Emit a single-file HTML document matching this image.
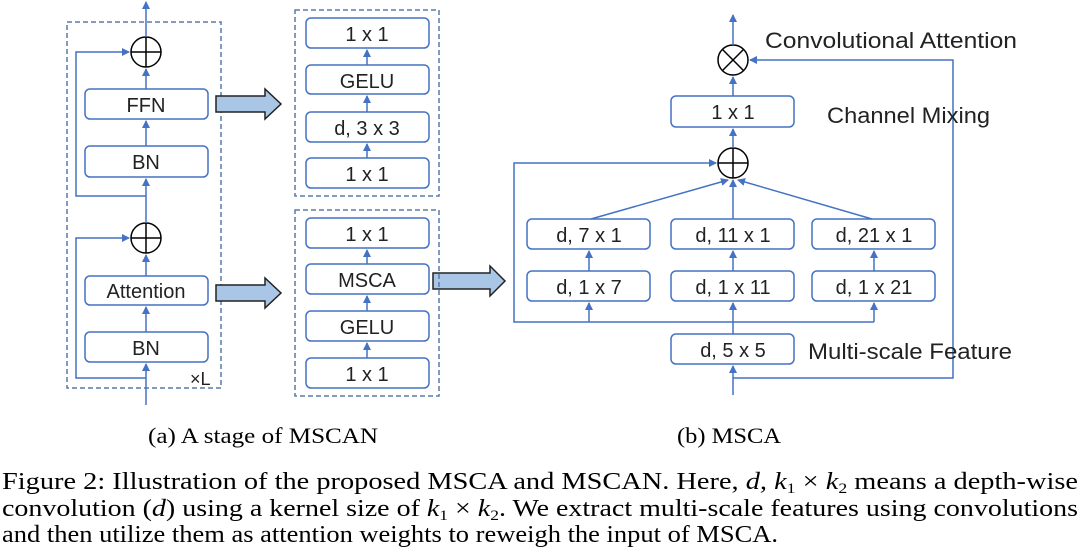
<!DOCTYPE html>
<html><head><meta charset="utf-8"><style>
html,body{margin:0;padding:0;background:#fff;}
svg{display:block;}
.b{fill:#fff;stroke:#4472c4;stroke-width:1.5;}
.l{stroke:#4472c4;stroke-width:1.5;fill:none;}
.d{fill:none;stroke:#5a7ca8;stroke-width:1.5;stroke-dasharray:5,3;}
.t{font-family:"Liberation Sans",sans-serif;font-size:20px;fill:#222;text-anchor:middle;}
.lab{font-family:"Liberation Sans",sans-serif;font-size:22px;fill:#222;}
.s{font-family:"Liberation Serif",serif;font-size:22px;fill:#000;}
.c{stroke:#000;stroke-width:1.5;fill:#fff;}
.ba{fill:#a9c6e6;stroke:#222;stroke-width:1.5;}
</style></head><body>
<svg width="1080" height="554" viewBox="0 0 1080 554" xmlns="http://www.w3.org/2000/svg">
<defs><marker id="a" markerWidth="8" markerHeight="8" refX="7" refY="4" orient="auto" markerUnits="userSpaceOnUse"><path d="M0,0 L8,4 L0,8 Z" fill="#4472c4"/></marker></defs>

<!-- Left stage -->
<rect class="d" x="67" y="22" width="154" height="366"/>
<line class="l" x1="146" y1="405" x2="146" y2="364" marker-end="url(#a)"/>
<polyline class="l" points="146,378 76,378 76,238 129,238" marker-end="url(#a)"/>
<rect class="b" x="85" y="332" width="123" height="30" rx="5"/><text class="t" x="146" y="355">BN</text>
<line class="l" x1="146" y1="332" x2="146" y2="307" marker-end="url(#a)"/>
<rect class="b" x="85" y="276" width="123" height="29" rx="5"/><text class="t" x="146" y="298">Attention</text>
<line class="l" x1="146" y1="276" x2="146" y2="255" marker-end="url(#a)"/>
<circle class="c" cx="146" cy="238" r="15"/><line x1="131" y1="238" x2="161" y2="238" stroke="#000" stroke-width="1.5"/><line x1="146" y1="223" x2="146" y2="253" stroke="#000" stroke-width="1.5"/>
<line class="l" x1="146" y1="223" x2="146" y2="179" marker-end="url(#a)"/>
<polyline class="l" points="146,196 76,196 76,52 129,52" marker-end="url(#a)"/>
<rect class="b" x="85" y="146" width="123" height="31" rx="5"/><text class="t" x="146" y="169">BN</text>
<line class="l" x1="146" y1="146" x2="146" y2="121" marker-end="url(#a)"/>
<rect class="b" x="85" y="89" width="123" height="30" rx="5"/><text class="t" x="146" y="112">FFN</text>
<line class="l" x1="146" y1="89" x2="146" y2="69" marker-end="url(#a)"/>
<circle class="c" cx="146" cy="52" r="15"/><line x1="131" y1="52" x2="161" y2="52" stroke="#000" stroke-width="1.5"/><line x1="146" y1="37" x2="146" y2="67" stroke="#000" stroke-width="1.5"/>
<line class="l" x1="146" y1="37" x2="146" y2="2" marker-end="url(#a)"/>
<text class="lab" x="190" y="385" style="font-size:18px">×L</text>

<!-- Block arrows -->
<path class="ba" d="M216,96 L265,96 L265,89 L281,104 L265,119 L265,112 L216,112 Z"/>
<path class="ba" d="M216,285 L265,285 L265,278 L281,293 L265,308 L265,301 L216,301 Z"/>
<path class="ba" d="M433,273 L490,273 L490,266 L505,281 L490,296 L490,289 L433,289 Z"/>

<!-- FFN detail -->
<rect class="d" x="295" y="10" width="144" height="186"/>
<rect class="b" x="306" y="158" width="123" height="30" rx="5"/><text class="t" x="367" y="181">1 x 1</text>
<line class="l" x1="367" y1="158" x2="367" y2="144" marker-end="url(#a)"/>
<rect class="b" x="306" y="112" width="123" height="30" rx="5"/><text class="t" x="367" y="135">d, 3 x 3</text>
<line class="l" x1="367" y1="112" x2="367" y2="96" marker-end="url(#a)"/>
<rect class="b" x="306" y="65" width="123" height="29" rx="5"/><text class="t" x="367" y="88">GELU</text>
<line class="l" x1="367" y1="65" x2="367" y2="50" marker-end="url(#a)"/>
<rect class="b" x="306" y="18" width="123" height="30" rx="5"/><text class="t" x="367" y="41">1 x 1</text>

<!-- Attention detail -->
<rect class="d" x="295" y="210" width="144" height="186"/>
<rect class="b" x="306" y="358" width="123" height="30" rx="5"/><text class="t" x="367" y="381">1 x 1</text>
<line class="l" x1="367" y1="358" x2="367" y2="343" marker-end="url(#a)"/>
<rect class="b" x="306" y="311" width="123" height="30" rx="5"/><text class="t" x="367" y="334">GELU</text>
<line class="l" x1="367" y1="311" x2="367" y2="296" marker-end="url(#a)"/>
<rect class="b" x="306" y="264" width="123" height="30" rx="5"/><text class="t" x="367" y="287">MSCA</text>
<line class="l" x1="367" y1="264" x2="367" y2="250" marker-end="url(#a)"/>
<rect class="b" x="306" y="218" width="123" height="30" rx="5"/><text class="t" x="367" y="241">1 x 1</text>

<!-- MSCA -->
<line class="l" x1="733" y1="395" x2="733" y2="366" marker-end="url(#a)"/>
<polyline class="l" points="733,378 953,378 953,60 750,60" marker-end="url(#a)"/>
<rect class="b" x="671" y="334" width="123" height="30" rx="5"/><text class="t" x="733" y="357">d, 5 x 5</text>
<text class="lab" x="808" y="359" textLength="204" lengthAdjust="spacingAndGlyphs">Multi-scale Feature</text>
<line class="l" x1="733" y1="334" x2="733" y2="303" marker-end="url(#a)"/>
<polyline class="l" points="874,322 514,322 514,163 716,163" marker-end="url(#a)"/>
<line class="l" x1="589" y1="322" x2="589" y2="303" marker-end="url(#a)"/>
<line class="l" x1="874" y1="322" x2="874" y2="303" marker-end="url(#a)"/>
<rect class="b" x="527" y="271" width="123" height="30" rx="5"/><text class="t" x="589" y="294">d, 1 x 7</text>
<rect class="b" x="671" y="271" width="123" height="30" rx="5"/><text class="t" x="733" y="294">d, 1 x 11</text>
<rect class="b" x="812" y="271" width="123" height="30" rx="5"/><text class="t" x="874" y="294">d, 1 x 21</text>
<line class="l" x1="589" y1="271" x2="589" y2="251" marker-end="url(#a)"/>
<line class="l" x1="733" y1="271" x2="733" y2="251" marker-end="url(#a)"/>
<line class="l" x1="874" y1="271" x2="874" y2="251" marker-end="url(#a)"/>
<rect class="b" x="527" y="219" width="123" height="30" rx="5"/><text class="t" x="589" y="242">d, 7 x 1</text>
<rect class="b" x="671" y="219" width="123" height="30" rx="5"/><text class="t" x="733" y="242">d, 11 x 1</text>
<rect class="b" x="812" y="219" width="123" height="30" rx="5"/><text class="t" x="874" y="242">d, 21 x 1</text>
<line class="l" x1="591" y1="219" x2="728" y2="180" marker-end="url(#a)"/>
<line class="l" x1="733" y1="219" x2="733" y2="180" marker-end="url(#a)"/>
<line class="l" x1="872" y1="219" x2="738" y2="180" marker-end="url(#a)"/>
<circle class="c" cx="733" cy="163" r="15"/><line x1="718" y1="163" x2="748" y2="163" stroke="#000" stroke-width="1.5"/><line x1="733" y1="148" x2="733" y2="178" stroke="#000" stroke-width="1.5"/>
<line class="l" x1="733" y1="148" x2="733" y2="129" marker-end="url(#a)"/>
<rect class="b" x="671" y="96" width="123" height="31" rx="5"/><text class="t" x="733" y="119">1 x 1</text>
<text class="lab" x="827" y="123" textLength="163" lengthAdjust="spacingAndGlyphs">Channel Mixing</text>
<line class="l" x1="733" y1="96" x2="733" y2="77" marker-end="url(#a)"/>
<circle class="c" cx="733" cy="60" r="15"/><line x1="722.4" y1="49.4" x2="743.6" y2="70.6" stroke="#000" stroke-width="1.5"/><line x1="743.6" y1="49.4" x2="722.4" y2="70.6" stroke="#000" stroke-width="1.5"/>
<line class="l" x1="733" y1="45" x2="733" y2="15" marker-end="url(#a)"/>
<text class="lab" x="765" y="48" textLength="252" lengthAdjust="spacingAndGlyphs">Convolutional Attention</text>

<!-- Captions -->
<text class="s" x="148" y="443" textLength="230" lengthAdjust="spacingAndGlyphs">(a) A stage of MSCAN</text>
<text class="s" x="677" y="443" textLength="104" lengthAdjust="spacingAndGlyphs">(b) MSCA</text>
<text class="s" x="2" y="489" textLength="1076" lengthAdjust="spacingAndGlyphs" style="font-size:24px">Figure 2: Illustration of the proposed MSCA and MSCAN. Here, <tspan font-style="italic">d, k</tspan><tspan font-size="15" dy="4">1</tspan><tspan dy="-4"> × </tspan><tspan font-style="italic">k</tspan><tspan font-size="15" dy="4">2</tspan><tspan dy="-4"> means a depth-wise</tspan></text>
<text class="s" x="2" y="516" textLength="1076" lengthAdjust="spacingAndGlyphs" style="font-size:24px">convolution (<tspan font-style="italic">d</tspan>) using a kernel size of <tspan font-style="italic">k</tspan><tspan font-size="15" dy="4">1</tspan><tspan dy="-4"> × </tspan><tspan font-style="italic">k</tspan><tspan font-size="15" dy="4">2</tspan><tspan dy="-4">. We extract multi-scale features using convolutions</tspan></text>
<text class="s" x="2" y="542" textLength="776" lengthAdjust="spacingAndGlyphs" style="font-size:24px">and then utilize them as attention weights to reweigh the input of MSCA.</text>
</svg>
</body></html>
